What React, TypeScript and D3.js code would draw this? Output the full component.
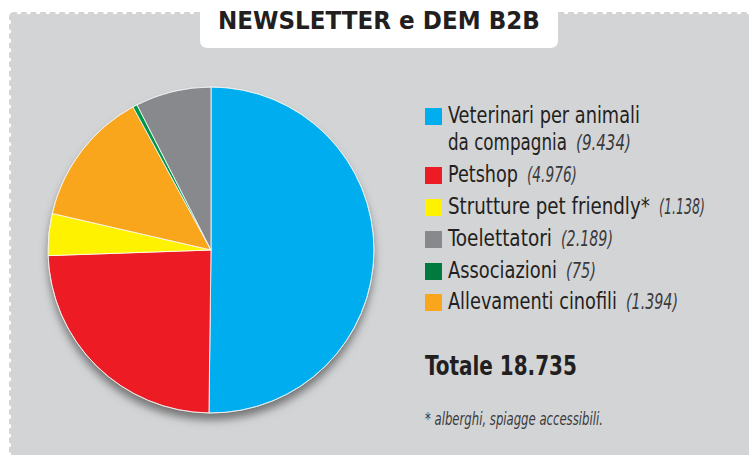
import React, { useLayoutEffect, useRef, useState } from "react";
import * as d3 from "d3";

const W = 749;
const H = 455;

// Legend entries (legend order)
const legendNames = [
  ["Veterinari per animali", "da compagnia"],
  ["Petshop"],
  ["Strutture pet friendly*"],
  ["Toelettatori"],
  ["Associazioni"],
  ["Allevamenti cinofili"],
];
const legendValues = ["(9.434)", "(4.976)", "(1.138)", "(2.189)", "(75)", "(1.394)"];
const legendColors = ["#00aeef", "#ed1c24", "#fff200", "#88898d", "#007a3d", "#f9a61c"];

// Pie slices (clockwise from 12 o'clock) — shares as drawn in the picture (%)
const sliceNames = ["Veterinari", "Petshop", "Strutture", "Allevamenti", "Associazioni", "Toelettatori"];
const sliceShares = [50.2, 24.25, 4.15, 13.45, 0.45, 7.5];
const sliceColors = ["#00aeef", "#ed1c24", "#fff200", "#f9a61c", "#00964a", "#88898d"];

const title = "NEWSLETTER e DEM B2B";
const totalLabel = "Totale 18.735";
const footnote = "* alberghi, spiagge accessibili.";

const FONT = "'DejaVu Sans Condensed', 'Liberation Sans Narrow', sans-serif";

// typeset widths of text runs, matching the condensed face of the original
const nameWidths = [[192, 119], [70], [202], [104], [109], [169]];
const valueWidths = [55, 50, 46, 52, 30, 52];
const valueGap = 9;

type FitProps = {
  x: number;
  y: number;
  width: number;
  children: React.ReactNode;
  [k: string]: any;
};

function FitText({ x, y, width, children, ...rest }: FitProps) {
  const ref = useRef<SVGTextElement>(null);
  const [s, setS] = useState(1);
  useLayoutEffect(() => {
    if (ref.current) {
      const n = ref.current.getComputedTextLength();
      if (n > 0) setS(width / n);
    }
  }, [width, children]);
  return (
    <text ref={ref} transform={`translate(${x},${y}) scale(${s},1)`} {...rest}>
      {children}
    </text>
  );
}

export default function App() {
  const cx = 211;
  const cy = 250;
  const r = 163;

  const pie = d3
    .pie<number>()
    .sort(null)
    .value((d) => d)
    .startAngle(0)
    .endAngle(2 * Math.PI);
  const arcs = pie(sliceShares);
  const arc = d3.arc<d3.PieArcDatum<number>>().innerRadius(0).outerRadius(r);

  const topNotches = d3.range(19, W + 10, 9.6).filter((x) => x < 198 || x > 560);
  const leftNotches = d3.range(22, H + 10, 9.4);

  const baselines = [123, 182, 214, 246, 278, 309];
  const legendY = d3.scaleOrdinal<number, number>().domain(d3.range(6)).range(baselines);

  return (
    <svg
      width={W}
      height={H}
      style={{ position: "fixed", left: 0, top: 0, display: "block", background: "#fff" }}
      fontFamily={FONT}
    >
      <defs>
        <filter id="shadow" x="-20%" y="-20%" width="140%" height="150%">
          <feDropShadow dx="0" dy="7" stdDeviation="4" floodColor="#555" floodOpacity="0.75" />
        </filter>
      </defs>
      <rect x={9} y={12} width={W} height={H} rx={5} fill="#d3d4d6" />
      {topNotches.map((x, i) => (
        <circle key={"t" + i} cx={x} cy={12} r={2.2} fill="#fff" />
      ))}
      {leftNotches.map((y, i) => (
        <circle key={"l" + i} cx={9} cy={y} r={2.2} fill="#fff" />
      ))}

      <path d={`M200,0 H558 V40 Q558,48 550,48 H208 Q200,48 200,40 Z`} fill="#fff" />
      <FitText x={218} y={29} width={322} fontSize={24.5} fontWeight="bold" fill="#231f20">
        {title}
      </FitText>

      <g transform={`translate(${cx},${cy})`}>
        <g filter="url(#shadow)">
          <circle r={r} fill="#d3d4d6" />
        </g>
        {arcs.map((a, i) => (
          <path
            key={sliceNames[i]}
            d={arc(a) || ""}
            fill={sliceColors[i]}
            stroke="#fff"
            strokeWidth={0.8}
          />
        ))}
        <circle r={r} fill="none" stroke="#eee" strokeWidth={0.6} />
      </g>

      {legendNames.map((lines, i) => {
        const y = legendY(i);
        return (
          <g key={i}>
            <rect x={425} y={y - 15} width={17} height={17} fill={legendColors[i]} />
            {lines.map((ln, j) => {
              const last = j === lines.length - 1;
              const w = nameWidths[i][j];
              const ly = y + j * 26.5;
              return (
                <g key={j}>
                  <FitText x={448} y={ly} width={w} fontSize={22.5} fill="#231f20">
                    {ln}
                  </FitText>
                  {last && (
                    <FitText
                      x={448 + w + valueGap}
                      y={ly}
                      width={valueWidths[i]}
                      fontSize={21.5}
                      fontStyle="italic"
                      fill="#3a3a3c"
                    >
                      {legendValues[i]}
                    </FitText>
                  )}
                </g>
              );
            })}
          </g>
        );
      })}

      <FitText x={425} y={375} width={152} fontSize={26} fontWeight="bold" fill="#231f20">
        {totalLabel}
      </FitText>
      <FitText x={425} y={425} width={178} fontSize={18.5} fontStyle="italic" fill="#3a3a3c">
        {footnote}
      </FitText>
    </svg>
  );
}
